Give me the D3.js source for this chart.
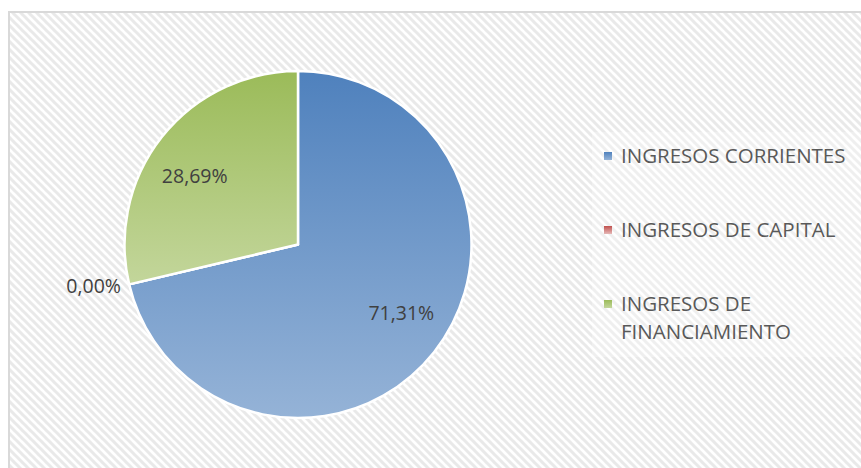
<!DOCTYPE html>
<html>
<head>
<meta charset="utf-8">
<script src="https://cdn.jsdelivr.net/npm/d3@7"></script>
<style>
  body { margin: 0; background: #fff; }
  svg { display: block; font-family: "Open Sans", sans-serif; }
</style>
</head>
<body>
<svg id="chart" width="861" height="468"></svg>
<script>
// chart values
var categories = ["INGRESOS CORRIENTES", "INGRESOS DE CAPITAL", "INGRESOS DE FINANCIAMIENTO"];
var values = [71.31, 0.00, 28.69];
var valueLabels = ["71,31%", "0,00%", "28,69%"];
var legendLines = [["INGRESOS CORRIENTES"], ["INGRESOS DE CAPITAL"], ["INGRESOS DE", "FINANCIAMIENTO"]];

var colorTop = ["#4f81bd", "#c0504d", "#9bbb59"];
var colorBottom = ["#95b3d7", "#e6b9b8", "#c3d69b"];

var svg = d3.select("#chart");
var defs = svg.append("defs");

// hatch background
var pat = defs.append("pattern")
    .attr("id", "hatch")
    .attr("width", 8).attr("height", 8)
    .attr("patternUnits", "userSpaceOnUse");
pat.append("rect").attr("width", 8).attr("height", 8).attr("fill", "#fff");
pat.append("path")
    .attr("d", "M-2,-2 L10,10 M-2,6 L2,10 M6,-2 L10,2")
    .attr("stroke", "#e9e9e9")
    .attr("stroke-width", 3);

categories.forEach(function(c, i) {
    var g = defs.append("linearGradient")
        .attr("id", "grad" + i)
        .attr("x1", 0).attr("y1", 0).attr("x2", 0).attr("y2", 1);
    g.append("stop").attr("offset", "0%").attr("stop-color", colorTop[i]);
    g.append("stop").attr("offset", "100%").attr("stop-color", colorBottom[i]);
});

svg.append("rect")
    .attr("x", 9).attr("y", 12)
    .attr("width", 870).attr("height", 470)
    .attr("fill", "url(#hatch)")
    .attr("stroke", "#d9d9d9")
    .attr("stroke-width", 2);

//pie
var cx = 298, cy = 244.5, radius = 173.5;

var pie = d3.pie().sort(null).value(function(d) { return d; });
var arcs = pie(values);
var arc = d3.arc().innerRadius(0).outerRadius(radius);
var labelArc = d3.arc().innerRadius(radius * 0.73).outerRadius(radius * 0.73);
var outerArc = d3.arc().innerRadius(radius * 1.21).outerRadius(radius * 1.21);

var pieG = svg.append("g").attr("transform", "translate(" + cx + "," + cy + ")");

pieG.selectAll("path")
    .data(arcs)
    .enter()
    .append("path")
    .attr("d", arc)
    .attr("fill", function(d, i) { return "url(#grad" + i + ")"; })
    .attr("stroke", "#fff")
    .attr("stroke-width", 2.5)
    .attr("stroke-linejoin", "round");

pieG.selectAll("text")
    .data(arcs)
    .enter()
    .append("text")
    .attr("transform", function(d) {
        var p;
        if (d.value > 0) {
            p = labelArc.centroid(d);
            p = [p[0] * 1.04, p[1] * 0.875];
        } else {
            p = outerArc.centroid(d);
            p = [p[0], p[1] * 0.87];
        }
        return "translate(" + p[0] + "," + p[1] + ")";
    })
    .attr("text-anchor", "middle")
    .attr("dy", "0.36em")
    .attr("font-size", 19.5)
    .attr("fill", "#404040")
    .text(function(d, i) { return valueLabels[i]; });

// legend
svg.append("rect")
    .attr("x", 592).attr("y", 132)
    .attr("width", 269).attr("height", 225)
    .attr("fill", "#fff")
    .attr("opacity", 0.3);

var legendY = d3.scalePoint()
    .domain(categories)
    .range([156, 304]);

var legend = svg.append("g")
    .selectAll("g")
    .data(categories)
    .enter()
    .append("g")
    .attr("transform", function(d) { return "translate(604," + legendY(d) + ")"; });

legend.append("rect")
    .attr("x", 0).attr("y", -4)
    .attr("width", 8).attr("height", 8)
    .attr("fill", function(d, i) { return "url(#grad" + i + ")"; });

legend.append("text")
    .attr("font-size", 20.5)
    .attr("fill", "#595959")
    .selectAll("tspan")
    .data(function(d, i) { return legendLines[i]; })
    .enter()
    .append("tspan")
    .attr("x", 17)
    .attr("y", function(d, j) { return 7 + j * 28; })
    .text(function(d) { return d; });
</script>
</body>
</html>
